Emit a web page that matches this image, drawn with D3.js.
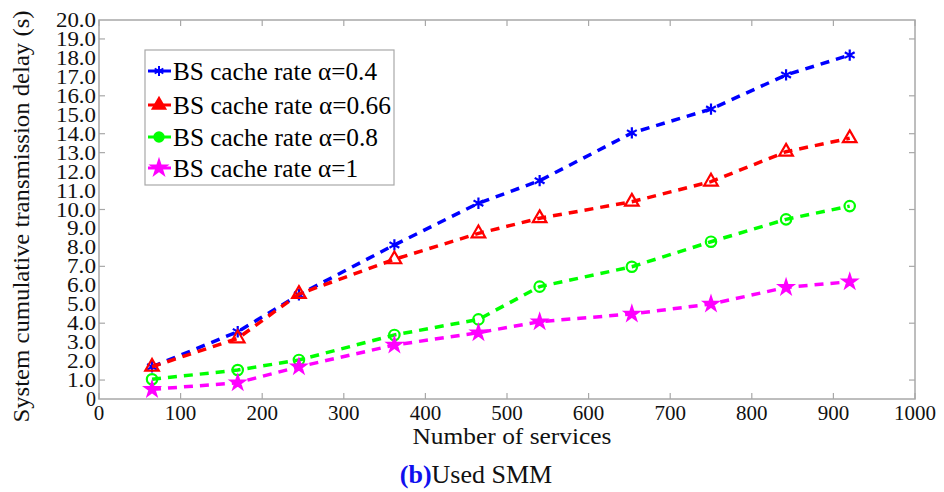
<!DOCTYPE html>
<html>
<head>
<meta charset="utf-8">
<script src="https://cdn.jsdelivr.net/npm/d3@7"></script>
<style>
  body { margin: 0; background: #fff; }
  svg { display: block; font-family: "Liberation Serif", "Times New Roman", serif; }
</style>
</head>
<body>
<svg width="944" height="492"></svg>
<script>
const services = [65, 170, 245, 362, 465, 540, 653, 750, 842, 920];
const delay04 = [1.7, 3.55, 5.5, 8.13, 10.33, 11.52, 14.04, 15.3, 17.1, 18.15];
const delay066 = [1.7, 3.2, 5.54, 7.37, 8.74, 9.54, 10.41, 11.47, 13.05, 13.76];
const delay08 = [1.04, 1.53, 2.06, 3.38, 4.2, 5.93, 6.98, 8.3, 9.48, 10.18];
const delay1 = [0.51, 0.86, 1.7, 2.85, 3.5, 4.08, 4.49, 5.01, 5.89, 6.19];

const seriesNames = ["BS cache rate α=0.4", "BS cache rate α=0.66", "BS cache rate α=0.8", "BS cache rate α=1"];
const xTicks = [0, 100, 200, 300, 400, 500, 600, 700, 800, 900, 1000];
const yLabels = d3.range(0, 21);
const yTickMarks = [1, 4, 7, 10, 13, 14, 16, 19];

const svg = d3.select("svg");

const x = d3.scaleLinear().domain([0, 1000]).range([99, 915]);
const y = d3.scaleLinear().domain([0, 20]).range([399, 20]);

const series = [
  {name: seriesNames[0], values: delay04, color: "#0000ff", symbol: d3.symbolAsterisk, size: 90, filled: false},
  {name: seriesNames[1], values: delay066, color: "#ff0000", symbol: d3.symbolTriangle, size: 80, filled: false},
  {name: seriesNames[2], values: delay08, color: "#00ff00", symbol: d3.symbolCircle, size: 85, filled: false},
  {name: seriesNames[3], values: delay1, color: "#ff00ff", symbol: d3.symbolStar, size: 55, filled: true}
];

const frameColor = "#a8a8a8";

// frame
svg.append("rect")
  .attr("x", x(0)).attr("y", y(20))
  .attr("width", x(1000) - x(0)).attr("height", y(0) - y(20))
  .attr("fill", "none").attr("stroke", frameColor).attr("stroke-width", 1.5);

// x ticks inside, top and bottom
const xt = svg.append("g");
xTicks.forEach(t => {
  xt.append("line").attr("x1", x(t)).attr("x2", x(t)).attr("y1", y(0)).attr("y2", y(0) - 6)
    .attr("stroke", frameColor).attr("stroke-width", 1.2);
  xt.append("line").attr("x1", x(t)).attr("x2", x(t)).attr("y1", y(20)).attr("y2", y(20) + 6)
    .attr("stroke", frameColor).attr("stroke-width", 1.2);
  xt.append("text").attr("x", x(t)).attr("y", 420)
    .attr("text-anchor", "middle").attr("font-size", "21px").attr("fill", "#111")
    .text(t);
});

// y tick marks, left and right
yTickMarks.forEach(t => {
  svg.append("line").attr("x1", x(0)).attr("x2", x(0) + 6).attr("y1", y(t)).attr("y2", y(t))
    .attr("stroke", frameColor).attr("stroke-width", 1.2);
  svg.append("line").attr("x1", x(1000)).attr("x2", x(1000) - 6).attr("y1", y(t)).attr("y2", y(t))
    .attr("stroke", frameColor).attr("stroke-width", 1.2);
});

// y labels
svg.append("g").selectAll("text")
  .data(yLabels)
  .join("text")
  .attr("x", 96)
  .attr("y", d => y(d) + 7)
  .attr("text-anchor", "end")
  .attr("font-size", "21px")
  .attr("fill", "#111")
  .attr("textLength", d => d === 0 ? 10 : (d >= 10 ? 40 : 29))
  .attr("lengthAdjust", "spacingAndGlyphs")
  .text(d => d === 0 ? "0" : d.toFixed(1));

// axis titles
svg.append("text")
  .attr("transform", `translate(29, ${(10 + 423) / 2}) rotate(-90)`)
  .attr("text-anchor", "middle")
  .attr("font-size", "23px")
  .attr("fill", "#111")
  .attr("textLength", 412).attr("lengthAdjust", "spacingAndGlyphs")
  .text("System cumulative transmission delay (s)");

svg.append("text")
  .attr("x", 512).attr("y", 444)
  .attr("text-anchor", "middle")
  .attr("font-size", "24px")
  .attr("fill", "#111")
  .attr("textLength", 199).attr("lengthAdjust", "spacingAndGlyphs")
  .text("Number of services");

const cap = svg.append("text")
  .attr("x", 476).attr("y", 483)
  .attr("text-anchor", "middle")
  .attr("font-size", "26px")
  .attr("fill", "#111");
cap.append("tspan").attr("fill", "#1010ee").attr("font-weight", "bold").text("(b)");
cap.append("tspan").text("Used SMM");

// lines
const line = d3.line()
  .x((d, i) => x(services[i]))
  .y(d => y(d));

series.forEach(s => {
  svg.append("path")
    .datum(s.values)
    .attr("d", line)
    .attr("fill", "none")
    .attr("stroke", s.color)
    .attr("stroke-width", 3.5)
    .attr("stroke-dasharray", "9,7");

  svg.append("g").selectAll("path")
    .data(s.values)
    .join("path")
    .attr("transform", (d, i) => `translate(${x(services[i])}, ${y(d)})`)
    .attr("d", d3.symbol().type(s.symbol).size(s.size))
    .attr("fill", s.filled ? s.color : "none")
    .attr("stroke", s.color)
    .attr("stroke-width", 2.2);
});

// legend
const legend = svg.append("g");
legend.append("rect")
  .attr("x", 145).attr("y", 50).attr("width", 249).attr("height", 135)
  .attr("fill", "#fff").attr("stroke", frameColor).attr("stroke-width", 1.2);

const legendY = [71, 105, 137, 168];
const legendW = [204, 218, 205, 185];
series.forEach((s, i) => {
  const g = legend.append("g").attr("transform", `translate(0, ${legendY[i]})`);
  g.append("line").attr("x1", 148).attr("x2", 171).attr("y1", 0).attr("y2", 0)
    .attr("stroke", s.color).attr("stroke-width", 3);
  g.append("path")
    .attr("transform", "translate(159, 0)")
    .attr("d", d3.symbol().type(s.symbol).size(70))
    .attr("fill", s.color)
    .attr("stroke", s.color)
    .attr("stroke-width", 2);
  g.append("text")
    .attr("x", 173).attr("y", 9)
    .attr("font-size", "25px")
    .attr("fill", "#000")
    .attr("textLength", legendW[i]).attr("lengthAdjust", "spacingAndGlyphs")
    .text(s.name);
});
</script>
</body>
</html>
